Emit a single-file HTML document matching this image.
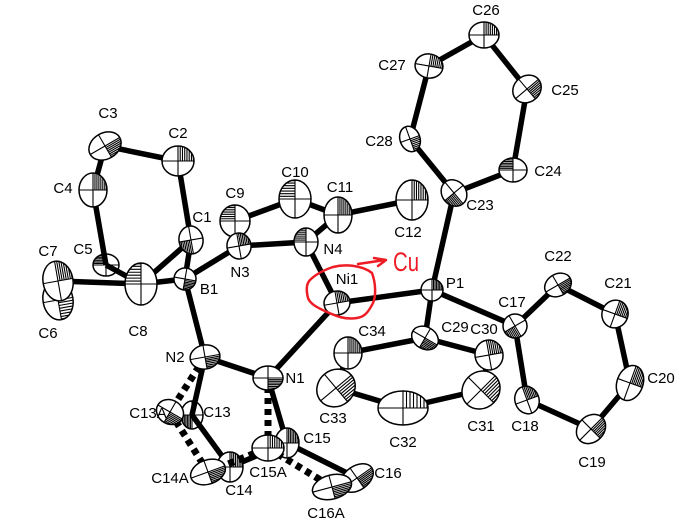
<!DOCTYPE html>
<html><head><meta charset="utf-8"><style>html,body{margin:0;padding:0;background:#fff}svg{display:block}text{font-family:"Liberation Sans",sans-serif;font-size:15px;fill:#000;text-anchor:middle}</style></head><body>
<svg width="682" height="530" viewBox="0 0 682 530" xmlns="http://www.w3.org/2000/svg">
<defs>
<g id="a">
<circle r="1" fill="#fff" stroke="#000" stroke-width="1.5" vector-effect="non-scaling-stroke"/>
<g stroke="#000" stroke-width="1.1" fill="none">
<path vector-effect="non-scaling-stroke" d="M-1 0H1M0 -1V1"/>
<path vector-effect="non-scaling-stroke" d="M0 .14H.99M0 .28H.96M0 .42H.91M0 .56H.83M0 .7H.71M0 .84H.54M0 .96H.28"/>
</g>
</g>
</defs>

<g>
<use href="#a" transform="translate(58 300) rotate(-10) scale(15 20)"/>
<use href="#a" transform="translate(106 265) rotate(180) scale(13 11)"/>
<use href="#a" transform="translate(192 415) rotate(90) scale(14 11)"/>
</g>

<g stroke="#000" stroke-width="5.5" fill="none" stroke-linecap="butt">
<path d="M105 146L178 161M105 146L93 190M178 161L191 240M93 190L106 265M106 265L141 284"/>
<path d="M191 240L141 284M191 240L185 279M141 284L185 279M58 281L141 284"/>
<path d="M185 279L239 246M185 279L205 357M239 246L306 242M239 246L235 221M235 221L295 199M295 199L338 215M338 215L306 242M338 215L412 200"/>
<path d="M306 242L337 303M337 303L432 290M337 303L268 378M268 378L205 357"/>
<path d="M432 290L454 193M432 290L515 326M432 290L425 338M454 193L513 170M454 193L410 139M513 170L527 89M527 89L484 35M484 35L429 66M429 66L410 139"/>
<path d="M515 326L558 285M558 285L615 314M615 314L630 383M630 383L591 429M591 429L527 400M527 400L515 326"/>
<path d="M425 338L489 355M425 338L348 353M348 353L336 388M336 388L403 408M403 408L481 390M481 390L489 355"/>
<path d="M205 357L192 415M192 415L230 467M230 467L287 443M287 443L268 378M287 443L357 478"/>
</g>

<g>
<use href="#a" transform="translate(230 467) rotate(-90) scale(15 13)"/>
<use href="#a" transform="translate(287 443) rotate(-90) scale(15 12)"/>
<use href="#a" transform="translate(357 478) rotate(-35) scale(18 12)"/>
</g>

<g stroke="#000" stroke-width="7" fill="none" stroke-dasharray="6 5">
<path d="M205 357L170 412M170 412L208 472M208 472L268 448M268 448L268 378M268 448L332 487"/>
</g>

<g>
<use href="#a" transform="translate(105 146) rotate(-30) scale(17 13)"/>
<use href="#a" transform="translate(178 161) rotate(-90) scale(15 16)"/>
<use href="#a" transform="translate(93 190) rotate(-90) scale(17 14)"/>
<use href="#a" transform="translate(191 240) rotate(80) scale(14 12)"/>
<use href="#a" transform="translate(141 284) rotate(180) scale(16 21)"/>
<use href="#a" transform="translate(185 279) rotate(10) scale(11 11)"/>
<use href="#a" transform="translate(58 281) rotate(-100) scale(20 15)"/>
<use href="#a" transform="translate(235 221) rotate(180) scale(15 16)"/>
<use href="#a" transform="translate(239 246) rotate(-100) scale(13 12)"/>
<use href="#a" transform="translate(295 199) rotate(180) scale(16 19)"/>
<use href="#a" transform="translate(338 215) rotate(-90) scale(18 14)"/>
<use href="#a" transform="translate(306 242) rotate(180) scale(12 14)"/>
<use href="#a" transform="translate(412 200) rotate(-90) scale(20 16)"/>
<use href="#a" transform="translate(337 303) rotate(-100) scale(12 13)"/>
<use href="#a" transform="translate(432 290) rotate(-90) scale(11 11)"/>
<use href="#a" transform="translate(454 193) rotate(50) scale(14 12)"/>
<use href="#a" transform="translate(513 170) rotate(180) scale(14 12)"/>
<use href="#a" transform="translate(527 89) rotate(-40) scale(15 13)"/>
<use href="#a" transform="translate(484 35) rotate(-90) scale(13 15)"/>
<use href="#a" transform="translate(429 66) rotate(-80) scale(12 14)"/>
<use href="#a" transform="translate(410 139) rotate(-20) scale(10 13)"/>
<use href="#a" transform="translate(515 326) rotate(60) scale(12 12)"/>
<use href="#a" transform="translate(558 285) rotate(-30) scale(14 11)"/>
<use href="#a" transform="translate(615 314) rotate(-70) scale(14 13)"/>
<use href="#a" transform="translate(630 383) rotate(-70) scale(18 13)"/>
<use href="#a" transform="translate(591 429) rotate(-45) scale(16 13)"/>
<use href="#a" transform="translate(527 400) rotate(-110) scale(14 12)"/>
<use href="#a" transform="translate(425 338) rotate(30) scale(14 11)"/>
<use href="#a" transform="translate(489 355) rotate(-100) scale(15 14)"/>
<use href="#a" transform="translate(481 390) rotate(-45) scale(20 18)"/>
<use href="#a" transform="translate(403 408) rotate(-90) scale(17 25)"/>
<use href="#a" transform="translate(336 388) rotate(-40) scale(20 18)"/>
<use href="#a" transform="translate(348 353) rotate(-90) scale(16 14)"/>
<use href="#a" transform="translate(205 357) rotate(-10) scale(15 12)"/>
<use href="#a" transform="translate(268 378) rotate(0) scale(15 12)"/>
<use href="#a" transform="translate(170 412) rotate(30) scale(14 12)"/>
<use href="#a" transform="translate(208 472) rotate(-20) scale(18 12)"/>
<use href="#a" transform="translate(268 448) rotate(-90) scale(13 16)"/>
<use href="#a" transform="translate(332 487) rotate(-15) scale(20 12)"/>
</g>

<text x="108" y="118">C3</text><text x="178" y="138">C2</text><text x="63" y="193">C4</text><text x="202" y="222">C1</text>
<text x="235" y="198">C9</text><text x="295" y="177">C10</text><text x="48" y="256">C7</text><text x="83" y="254">C5</text>
<text x="48" y="338">C6</text><text x="138" y="336">C8</text><text x="209" y="294">B1</text><text x="240" y="277">N3</text>
<text x="340" y="192">C11</text><text x="333" y="254">N4</text><text x="408" y="237">C12</text><text x="347" y="284">Ni1</text>
<text x="455" y="288">P1</text><text x="480" y="210">C23</text><text x="512" y="307">C17</text><text x="372" y="336">C34</text>
<text x="455" y="332">C29</text><text x="484" y="334">C30</text><text x="333" y="423">C33</text><text x="403" y="447">C32</text>
<text x="481" y="431">C31</text><text x="175" y="362">N2</text><text x="295" y="383">N1</text><text x="148" y="418">C13A</text>
<text x="217" y="417">C13</text><text x="170" y="483">C14A</text><text x="239" y="495">C14</text><text x="268" y="477">C15A</text>
<text x="317" y="443">C15</text><text x="388" y="478">C16</text><text x="326" y="518">C16A</text>
<text x="392" y="70">C27</text><text x="379" y="146">C28</text><text x="486" y="15">C26</text><text x="565" y="95">C25</text>
<text x="548" y="176">C24</text><text x="558" y="261">C22</text><text x="618" y="288">C21</text><text x="661" y="383">C20</text>
<text x="592" y="467">C19</text><text x="525" y="431">C18</text>

<g stroke="#ee1c25" stroke-width="2.5" fill="none" stroke-linecap="round" stroke-linejoin="round">
<path d="M333 267C345 264 362 265 372 273C376 284 376 296 373 303C368 313 364 317 357 318C345 320 336 316 327 312C318 308 310 304 308 298C306 290 306 284 310 280C316 274 324 270 333 267Z"/>
<path d="M358 264L385 260M374 258L386 260L378 266"/>
</g>
<text x="393" y="271" textLength="26" lengthAdjust="spacingAndGlyphs" style="font-size:27px;fill:#ee1c25;text-anchor:start">Cu</text>
</svg>
</body></html>
